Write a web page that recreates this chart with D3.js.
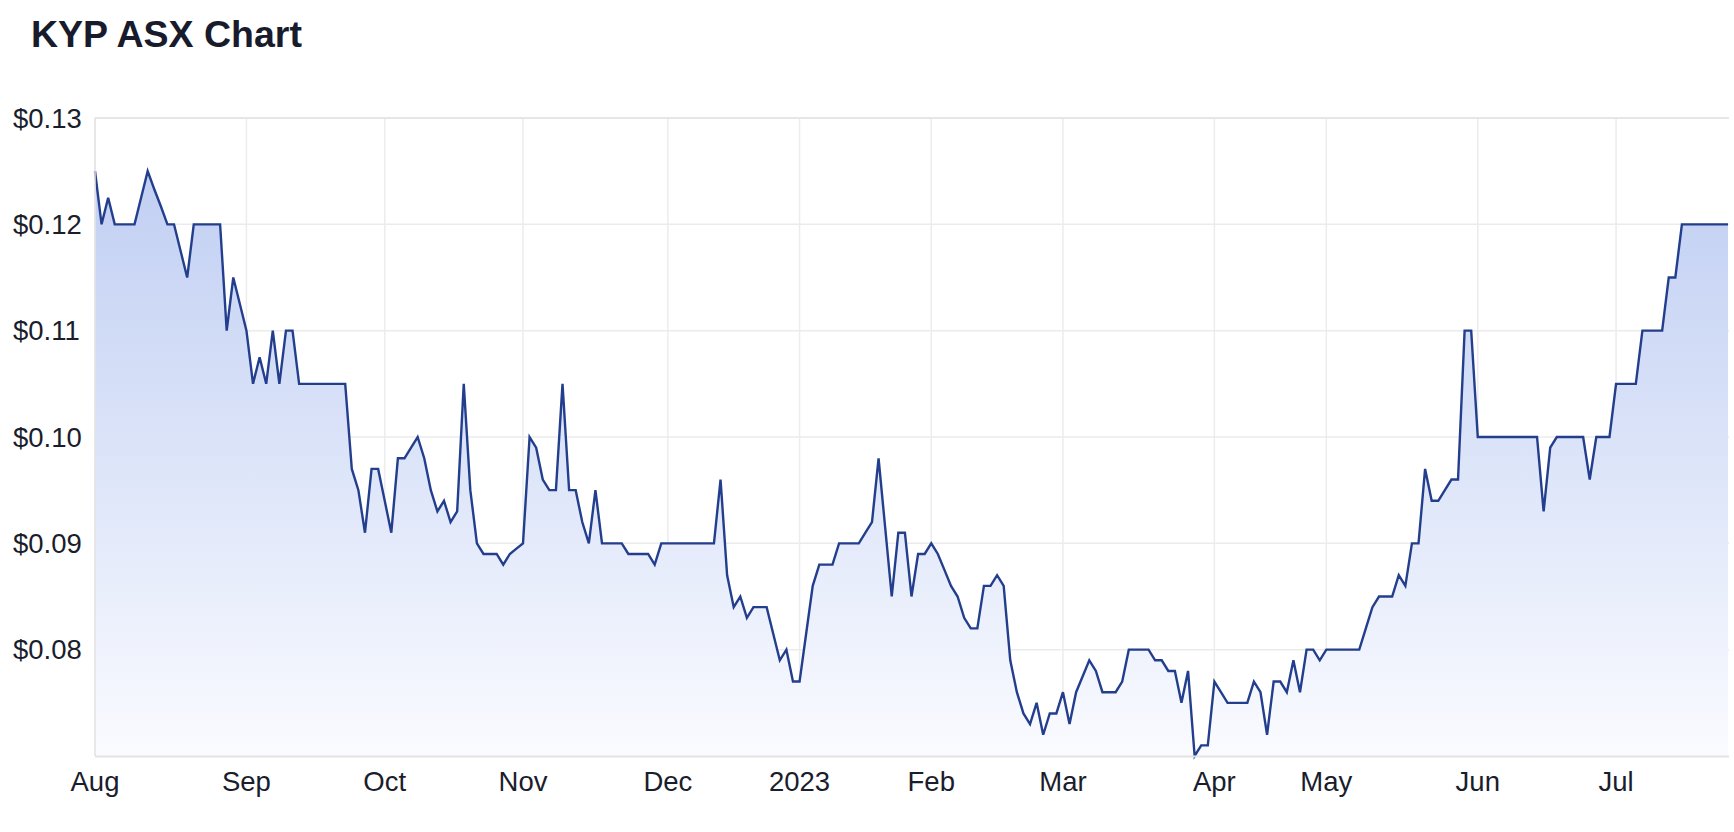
<!DOCTYPE html>
<html><head><meta charset="utf-8">
<script src="https://cdn.jsdelivr.net/npm/d3@7"></script>
<style>
html,body{margin:0;padding:0;background:#fff;}
svg{display:block;font-family:"Liberation Sans",Arial,Helvetica,sans-serif;}
</style></head>
<body><svg id="chart" width="1734" height="832"></svg>
<script>
const title = "KYP ASX Chart";
// Daily closing prices, one per ASX trading day, 1 Aug 2022 – 26 Jul 2023
const prices = [
0.125,0.12,0.1225,0.12,0.12,0.12,0.12,0.1225,0.125,0.1233,
0.1217,0.12,0.12,0.1175,0.115,0.12,0.12,0.12,0.12,0.12,
0.11,0.115,0.1125,0.11,0.105,0.1075,0.105,0.11,0.105,0.11,
0.11,0.105,0.105,0.105,0.105,0.105,0.105,0.105,0.105,0.097,
0.095,0.091,0.097,0.097,0.094,0.091,0.098,0.098,0.099,0.10,
0.098,0.095,0.093,0.094,0.092,0.093,0.105,0.095,0.09,0.089,
0.089,0.089,0.088,0.089,0.0895,0.09,0.10,0.099,0.096,0.095,
0.095,0.105,0.095,0.095,0.092,0.09,0.095,0.09,0.09,0.09,
0.09,0.089,0.089,0.089,0.089,0.088,0.09,0.09,0.09,0.09,
0.09,0.09,0.09,0.09,0.09,0.096,0.087,0.084,0.085,0.083,
0.084,0.084,0.084,0.0815,0.079,0.08,0.077,0.077,0.0815,0.086,
0.088,0.088,0.088,0.09,0.09,0.09,0.09,0.091,0.092,0.098,
0.0915,0.085,0.091,0.091,0.085,0.089,0.089,0.09,0.089,0.0875,
0.086,0.085,0.083,0.082,0.082,0.086,0.086,0.087,0.086,0.079,
0.076,0.074,0.073,0.075,0.072,0.074,0.074,0.076,0.073,0.076,
0.0775,0.079,0.078,0.076,0.076,0.076,0.077,0.08,0.08,0.08,
0.08,0.079,0.079,0.078,0.078,0.075,0.078,0.07,0.071,0.071,
0.077,0.076,0.075,0.075,0.075,0.075,0.077,0.076,0.072,0.077,
0.077,0.076,0.079,0.076,0.08,0.08,0.079,0.08,0.08,0.08,
0.08,0.08,0.08,0.082,0.084,0.085,0.085,0.085,0.087,0.086,
0.09,0.09,0.097,0.094,0.094,0.095,0.096,0.096,0.11,0.11,
0.10,0.10,0.10,0.10,0.10,0.10,0.10,0.10,0.10,0.10,
0.093,0.099,0.10,0.10,0.10,0.10,0.10,0.096,0.10,0.10,
0.10,0.105,0.105,0.105,0.105,0.11,0.11,0.11,0.11,0.115,
0.115,0.12,0.12,0.12,0.12,0.12,0.12,0.12,0.12
];
// First trading day of each month (index into prices) and its label
const monthTickIndex = [0,23,44,65,87,107,127,147,170,187,210,231];
const monthTickLabel = ["Aug","Sep","Oct","Nov","Dec","2023","Feb","Mar","Apr","May","Jun","Jul"];
const yTicks = [0.08,0.09,0.10,0.11,0.12,0.13];
const yDomain = [0.07,0.13];

const svg = d3.select("#chart");
const L = 95, R = 1729, T = 118, B = 756;

const x = d3.scaleLinear().domain([0, prices.length - 1]).range([L, 1728]);
const y = d3.scaleLinear().domain(yDomain).range([B, T]);

svg.append("text").attr("x", 31).attr("y", 47)
  .attr("font-size", 37.5).attr("font-weight", 700).attr("fill", "#181b2b")
  .text(title);

const defs = svg.append("defs");
const grad = defs.append("linearGradient").attr("id","fillGrad")
  .attr("gradientUnits","userSpaceOnUse").attr("x1",0).attr("x2",0).attr("y1",T).attr("y2",B);
grad.append("stop").attr("offset","0%").attr("stop-color","#bccbf1");
grad.append("stop").attr("offset","55%").attr("stop-color","#dde5f9");
grad.append("stop").attr("offset","100%").attr("stop-color","#fafbff");

// grid
const g = svg.append("g");
g.selectAll("line.h").data(yTicks).join("line")
  .attr("x1", L).attr("x2", R).attr("y1", d => y(d)).attr("y2", d => y(d))
  .attr("stroke", "#ebebeb").attr("stroke-width", 1.5);
g.selectAll("line.v").data(monthTickIndex).join("line")
  .attr("x1", d => x(d)).attr("x2", d => x(d)).attr("y1", T).attr("y2", B)
  .attr("stroke", "#ececec").attr("stroke-width", 1.5);

// area + line
const area = d3.area().x((d,i) => x(i)).y0(B).y1(d => y(d));
const line = d3.line().x((d,i) => x(i)).y(d => y(d));
svg.append("path").datum(prices).attr("d", area).attr("fill", "url(#fillGrad)");
svg.append("path").datum(prices).attr("d", line).attr("fill", "none")
  .attr("stroke", "#233e8c").attr("stroke-width", 2.4).attr("stroke-linejoin","miter");

// frame lines
svg.append("line").attr("x1", L).attr("x2", L).attr("y1", T).attr("y2", B)
  .attr("stroke", "#e3e3e3").attr("stroke-width", 1.5);
svg.append("line").attr("x1", L).attr("x2", R).attr("y1", T).attr("y2", T)
  .attr("stroke", "#e3e3e3").attr("stroke-width", 1.5);
svg.append("line").attr("x1", L).attr("x2", R).attr("y1", B + 0.5).attr("y2", B + 0.5)
  .attr("stroke", "#e3e3e3").attr("stroke-width", 2);

// y labels
svg.append("g").selectAll("text").data(yTicks).join("text")
  .attr("x", 13).attr("y", d => y(d)).attr("dy", "0.35em")
  .attr("font-size", 27.5).attr("fill", "#1a1d2c")
  .text(d => "$" + d3.format(".2f")(d));

// x labels
svg.append("g").selectAll("text").data(monthTickIndex).join("text")
  .attr("x", d => x(d)).attr("y", 791).attr("text-anchor", "middle")
  .attr("font-size", 27.5).attr("fill", "#1a1d2c")
  .text((d,i) => monthTickLabel[i]);
</script></body></html>
